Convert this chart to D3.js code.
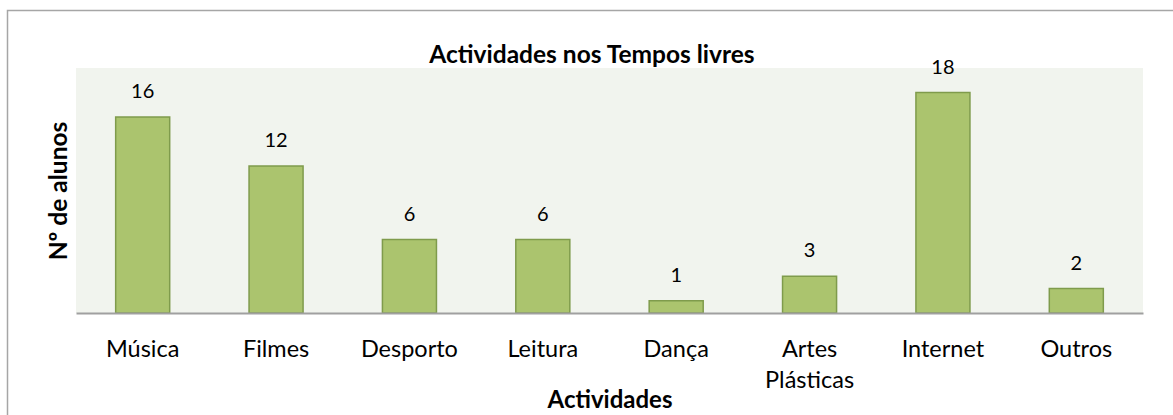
<!DOCTYPE html>
<html><head><meta charset="utf-8">
<script src="https://cdn.jsdelivr.net/npm/d3@7"></script>
<style>body{margin:0;background:#fff}svg{display:block}</style>
</head><body>
<script>
const categories = ["Música","Filmes","Desporto","Leitura","Dança","Artes Plásticas","Internet","Outros"];
const values = [16,12,6,6,1,3,18,2];
const chartTitle = "Actividades nos Tempos livres";
const xTitle = "Actividades";
const yTitle = "Nº de alunos";

const W = 1173, H = 415;
const font = "Lato, 'Open Sans', sans-serif";
const svg = d3.select("body").append("svg").attr("width", W).attr("height", H);
svg.append("rect").attr("width", W).attr("height", H).attr("fill", "#fff");
// outer border
svg.append("rect").attr("x", 7.5).attr("y", 10.5).attr("width", 1170).attr("height", 420)
  .attr("fill", "none").attr("stroke", "#a6a6a6").attr("stroke-width", 1.5);

const m = {left: 76, right: 1143, top: 68, bottom: 313};
svg.append("rect").attr("x", m.left).attr("y", m.top).attr("width", m.right - m.left).attr("height", m.bottom - m.top)
  .attr("fill", "#f1f4ee");

const x = d3.scaleBand().domain(categories).range([m.left, m.right]).paddingInner(0.595).paddingOuter(0.2975);
const y = d3.scaleLinear().domain([0, 20]).range([m.bottom, m.top]);

svg.selectAll("rect.bar").data(categories).enter().append("rect").attr("class", "bar")
  .attr("x", d => x(d)).attr("width", x.bandwidth())
  .attr("y", (d, i) => y(values[i])).attr("height", (d, i) => y(0) - y(values[i]))
  .attr("fill", "#abc46e").attr("stroke", "#7f9b4c").attr("stroke-width", 1.5);

svg.selectAll("text.val").data(categories).enter().append("text").attr("class", "val")
  .attr("x", d => x(d) + x.bandwidth() / 2).attr("y", (d, i) => y(values[i]) - 19)
  .attr("text-anchor", "middle").attr("font-family", font).attr("font-size", 20).attr("fill", "#000")
  .text((d, i) => values[i]);

// baseline axis
const xAxis = d3.axisBottom(x).tickSize(0).tickFormat("");
const gx = svg.append("g").attr("transform", `translate(0,${m.bottom})`).call(xAxis);
gx.select(".domain").attr("stroke", "#a0a0a0").attr("stroke-width", 2);

// category labels
svg.selectAll("text.cat").data(categories).enter().append("text").attr("class", "cat")
  .attr("text-anchor", "middle").attr("font-family", font).attr("font-size", 23.5).attr("fill", "#000")
  .each(function(d) {
    const words = d.split(" ");
    const t = d3.select(this);
    words.forEach((w, i) => {
      t.append("tspan").attr("x", x(d) + x.bandwidth() / 2).attr("y", 357 + i * 31).text(w);
    });
  });

svg.append("text").attr("x", 592).attr("y", 63).attr("text-anchor", "middle")
  .attr("font-family", font).attr("font-weight", "bold").attr("font-size", 24.5).text(chartTitle);
svg.append("text").attr("x", 610).attr("y", 408).attr("text-anchor", "middle")
  .attr("font-family", font).attr("font-weight", "bold").attr("font-size", 24).text(xTitle);
svg.append("text").attr("transform", "translate(67,191) rotate(-90)").attr("text-anchor", "middle")
  .attr("font-family", font).attr("font-weight", "bold").attr("font-size", 24.5).text(yTitle);
</script>
</body></html>
